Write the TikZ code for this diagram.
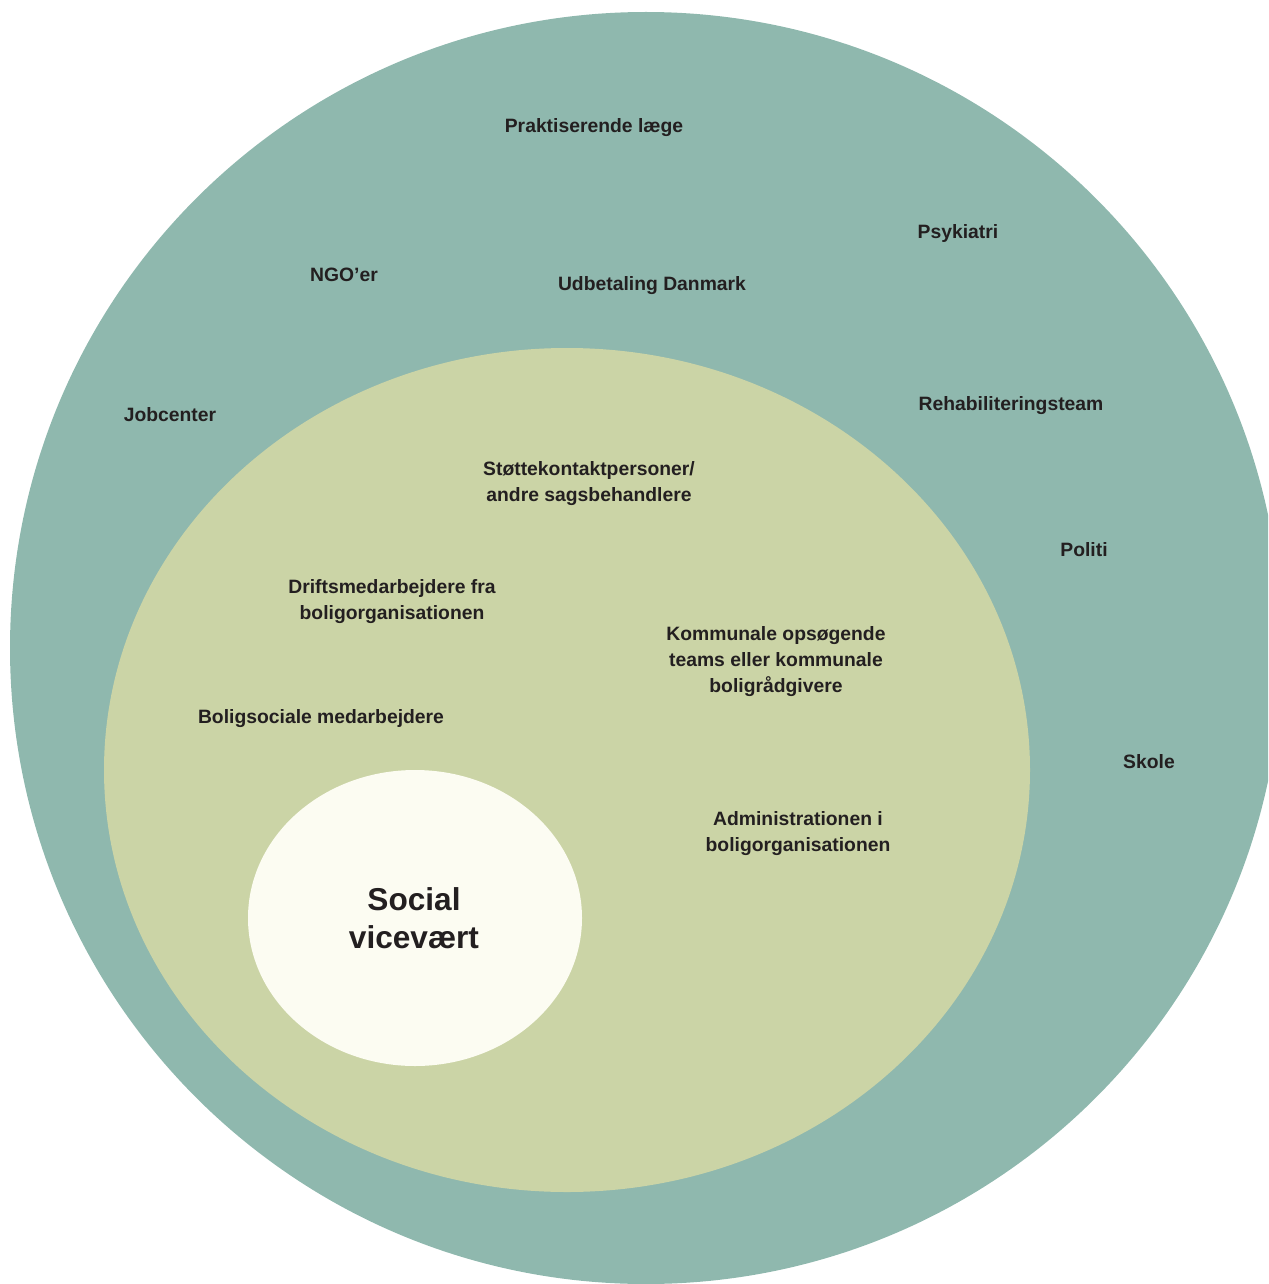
\documentclass[tikz,border=0pt]{standalone}
\usepackage{fontspec}
\setmainfont{Liberation Sans}
\definecolor{outerring}{HTML}{8FB8AE}
\definecolor{midring}{HTML}{CBD4A6}
\definecolor{corering}{HTML}{FCFCF2}
\definecolor{labeltext}{HTML}{231F20}
\tikzset{
  lbl/.style={text=labeltext, font=\fontsize{11}{14.8}\selectfont\bfseries, align=center, inner sep=0pt, yshift=-1.5pt},
  corelbl/.style={text=labeltext, font=\fontsize{18}{21.6}\selectfont\bfseries, align=center, inner sep=0pt}
}
\begin{document}
\begin{tikzpicture}[x=0.02cm,y=-0.02cm]

        \useasboundingbox (0,0) rectangle (1268,1284);
        \clip (0,0) rectangle (1268,1284);

        \draw[fill=outerring,draw=none] (646,648) circle [radius=636];
        \draw[fill=midring,draw=none] (567,770) ellipse [x radius=463, y radius=422];
        \draw[fill=corering,draw=none] (415,918) ellipse [x radius=167, y radius=148];

        % outer ring
        \node[lbl] (laege) at (594,125) {Praktiserende læge};
        \node[lbl] (psyk) at (958,231) {Psykiatri};
        \node[lbl] (ngo) at (344,272) {NGO’er};
        \node[lbl] (udb) at (652,283) {Udbetaling Danmark};
        \node[lbl] (job) at (170,412) {Jobcenter};
        \node[lbl] (rehab) at (1011,403) {Rehabiliteringsteam};
        \node[lbl] (politi) at (1084,547) {Politi};
        \node[lbl] (skole) at (1149,759) {Skole};

        % middle ring
        \node[lbl] (stoette) at (589,481) {Støttekontaktpersoner/\\andre sagsbehandlere};
        \node[lbl] (drift) at (392,599) {Driftsmedarbejdere fra\\boligorganisationen};
        \node[lbl] (komm) at (776,659) {Kommunale opsøgende\\teams eller kommunale\\boligrådgivere};
        \node[lbl] (bolsoc) at (321,716) {Boligsociale medarbejdere};
        \node[lbl] (adm) at (798,831) {Administrationen i\\boligorganisationen};

        % core
        \node[corelbl] (vice) at (414,918) {Social\\vicevært};
    \end{tikzpicture}
\end{document}
